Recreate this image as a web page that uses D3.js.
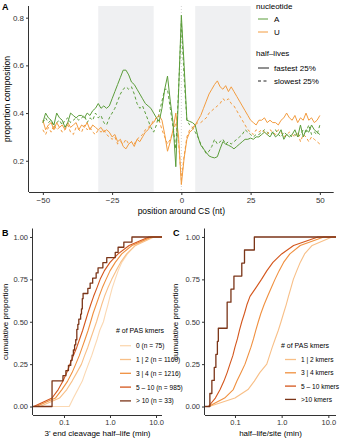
<!DOCTYPE html>
<html><head><meta charset="utf-8">
<script src="https://cdn.jsdelivr.net/npm/d3@7"></script>
<style>body{margin:0;background:#fff}svg{display:block}text{font-family:"Liberation Sans",Arial,sans-serif}</style>
</head><body><svg id="c" width="340" height="440"></svg>
<script>
// ---------- Panel A data ----------
const positions = d3.range(-50, 51);
const A_fastest = [0.36,0.40,0.38,0.37,0.35,0.40,0.38,0.37,0.34,0.36,
 0.40,0.39,0.38,0.39,0.39,0.38,0.40,0.39,0.41,0.42,
 0.44,0.42,0.43,0.42,0.43,0.46,0.49,0.52,0.55,0.58,
 0.58,0.56,0.53,0.52,0.50,0.48,0.46,0.44,0.43,0.42,
 0.40,0.38,0.365,0.42,0.50,0.555,0.45,0.36,0.175,0.49,
 0.81,
 0.60,0.37,0.365,0.36,0.35,0.30,0.266,0.25,0.235,0.22,
 0.215,0.212,0.217,0.25,0.28,0.27,0.265,0.259,0.25,0.26,
 0.27,0.28,0.29,0.29,0.295,0.29,0.30,0.30,0.31,0.32,
 0.31,0.30,0.32,0.30,0.31,0.33,0.29,0.31,0.30,0.31,
 0.33,0.30,0.35,0.30,0.33,0.32,0.35,0.33,0.32,0.31];
const A_slowest = [0.36,0.38,0.36,0.37,0.34,0.36,0.37,0.35,0.37,0.38,
 0.36,0.37,0.38,0.37,0.38,0.39,0.36,0.38,0.37,0.40,
 0.38,0.39,0.36,0.35,0.38,0.40,0.42,0.45,0.48,0.50,
 0.51,0.50,0.51,0.48,0.44,0.42,0.43,0.40,0.37,0.34,
 0.32,0.35,0.40,0.45,0.50,0.50,0.42,0.34,0.25,0.50,
 0.78,
 0.55,0.37,0.35,0.34,0.32,0.30,0.27,0.25,0.23,0.24,
 0.26,0.29,0.27,0.28,0.29,0.27,0.28,0.27,0.28,0.29,
 0.30,0.31,0.33,0.32,0.31,0.30,0.31,0.31,0.32,0.33,
 0.32,0.31,0.32,0.33,0.31,0.30,0.32,0.31,0.31,0.30,
 0.31,0.30,0.31,0.33,0.32,0.35,0.31,0.32,0.31,0.35];
const U_fastest = [0.37,0.33,0.35,0.36,0.33,0.36,0.34,0.35,0.33,0.36,
 0.34,0.35,0.36,0.33,0.35,0.34,0.36,0.33,0.35,0.34,
 0.33,0.34,0.32,0.33,0.32,0.30,0.31,0.28,0.29,0.26,
 0.25,0.27,0.28,0.26,0.29,0.28,0.30,0.32,0.33,0.35,
 0.36,0.38,0.39,0.37,0.31,0.24,0.28,0.33,0.40,0.30,
 0.10,
 0.21,0.29,0.32,0.33,0.35,0.37,0.39,0.42,0.45,0.48,
 0.50,0.52,0.535,0.51,0.50,0.515,0.49,0.51,0.49,0.47,
 0.45,0.43,0.41,0.39,0.37,0.36,0.35,0.37,0.37,0.38,
 0.36,0.37,0.36,0.36,0.35,0.37,0.38,0.40,0.38,0.37,
 0.39,0.36,0.38,0.37,0.40,0.37,0.38,0.36,0.37,0.39];
const U_slowest = [0.33,0.31,0.34,0.32,0.35,0.33,0.34,0.32,0.33,0.35,
 0.32,0.31,0.34,0.33,0.32,0.35,0.33,0.34,0.32,0.31,
 0.33,0.32,0.33,0.31,0.30,0.29,0.30,0.27,0.28,0.27,
 0.29,0.27,0.28,0.27,0.29,0.30,0.31,0.33,0.34,0.35,
 0.37,0.38,0.37,0.33,0.30,0.27,0.29,0.32,0.36,0.28,
 0.12,
 0.22,0.30,0.33,0.34,0.35,0.36,0.36,0.37,0.38,0.40,
 0.41,0.42,0.43,0.44,0.46,0.45,0.46,0.44,0.43,0.41,
 0.39,0.37,0.35,0.33,0.32,0.31,0.33,0.32,0.33,0.32,
 0.31,0.33,0.32,0.31,0.33,0.32,0.30,0.31,0.32,0.31,
 0.30,0.32,0.28,0.31,0.30,0.28,0.30,0.29,0.28,0.27];
const shadedRegions = [[-30,-10],[5,25]];
const xTicksA = [-50,-25,0,25,50];
const yTicksA = [0.2,0.4,0.6,0.8];

// ---------- Panel B data (quantiles at p = 0,0.05,...,1) ----------
const quantileLevels = [0,0.05,0.1,0.15,0.2,0.25,0.3,0.35,0.4,0.45,0.5,0.55,0.6,0.65,0.7,0.75,0.8,0.85,0.9,0.95,1];
const B_labels = ["0 (n = 75)","1 | 2 (n = 1160)","3 | 4 (n = 1216)","5 \u2013 10 (n = 985)","> 10 (n = 33)"];
const B_k0   = [0.13,0.16,0.2,0.25,0.29,0.34,0.4,0.46,0.53,0.6,0.72,0.8,0.9,1.0,1.12,1.29,1.5,1.8,2.4,3.5,7.5];
const B_k12  = [0.03,0.08,0.115,0.15,0.19,0.24,0.28,0.33,0.38,0.44,0.51,0.58,0.66,0.76,0.9,1.09,1.35,1.7,2.3,3.6,9.0];
const B_k34  = [0.025,0.065,0.09,0.12,0.15,0.18,0.215,0.25,0.29,0.335,0.38,0.43,0.5,0.58,0.68,0.82,1.0,1.3,1.8,3.0,8.0];
const B_k510 = [0.022,0.055,0.075,0.095,0.115,0.135,0.16,0.19,0.22,0.255,0.29,0.33,0.38,0.44,0.52,0.61,0.75,1.0,1.5,2.6,7.0];
const B_k10  = [0.055,0.055,0.055,0.055,0.055,0.095,0.11,0.125,0.14,0.15,0.16,0.17,0.18,0.19,0.19,0.2,0.21,0.23,0.25,0.25,0.24,0.26,0.33,0.37,0.42,0.5,0.55,0.7,0.85,1.3,1.5,2.0,3.0];

// ---------- Panel C data ----------
const C_labels = ["1 | 2 kmers","3 | 4 kmers","5 \u2013 10 kmers",">10 kmers"];
const C_k12  = [0.028,0.1,0.19,0.26,0.34,0.48,0.55,0.63,0.73,0.85,0.97,1.1,1.25,1.4,1.58,1.78,2.1,2.5,3.1,4.5,12.0];
const C_k34  = [0.027,0.06,0.092,0.11,0.135,0.164,0.19,0.22,0.25,0.28,0.316,0.36,0.42,0.5,0.6,0.72,0.88,1.1,1.5,2.5,8.0];
const C_k510 = [0.027,0.038,0.048,0.058,0.068,0.078,0.09,0.10,0.113,0.125,0.14,0.16,0.18,0.21,0.28,0.37,0.48,0.65,1.0,1.8,6.0];
const C_k10  = [0.029,0.032,0.036,0.039,0.042,0.044,0.068,0.068,0.082,0.095,0.14,0.16,0.26];

const logTicks = [0.1,1,10];
const logTickLabels = ["0.1","1.0","10.0"];
const cdfTicks = [0,0.25,0.5,0.75,1];

const colA = "#5b9d3a", colU = "#f39c40";
const pal = ["#fbd8b2","#f8bf87","#f0903f","#d4561c","#7b3518"];

const svg = d3.select("#c");
const font = '"Liberation Sans",Arial,sans-serif';

function axisStyle(g){
  g.selectAll(".domain").attr("stroke","#333").attr("stroke-width",1);
  g.selectAll(".tick line").attr("stroke","#333");
  g.selectAll(".tick text").attr("fill","#333").style("font-family",font);
}

// ================= Panel A =================
{
  const L=29,R=333.7,T=6,B=192;
  const x=d3.scaleLinear().domain([-55,55]).range([L,R]);
  const y=d3.scaleLinear().domain([0.069,0.849]).range([B,T]);
  const g=svg.append("g");
  g.selectAll("rect.sh").data(shadedRegions).join("rect")
    .attr("x",d=>x(d[0])).attr("width",d=>x(d[1])-x(d[0]))
    .attr("y",T).attr("height",B-T).attr("fill","#eff0f2");
  g.append("line").attr("x1",x(0)).attr("x2",x(0)).attr("y1",T).attr("y2",B)
    .attr("stroke","#c8c8c8").attr("stroke-width",0.8).attr("stroke-dasharray","1,2");
  const line=d3.line().x((d,i)=>x(positions[i])).y(d=>y(d));
  const series=[[A_slowest,colA,"3,2.5"],[U_slowest,colU,"3,2.5"],[U_fastest,colU,null],[A_fastest,colA,null]];
  series.forEach(([s,c,da])=>{
    g.append("path").attr("d",line(s)).attr("fill","none").attr("stroke",c)
      .attr("stroke-width",1).attr("stroke-dasharray",da).attr("stroke-linejoin","round");
  });
  const ax=g.append("g").attr("transform",`translate(0,${B})`)
    .call(d3.axisBottom(x).tickValues(xTicksA).tickSize(3).tickPadding(2).tickFormat(d=>d<0?"\u2212"+Math.abs(d):d));
  ax.selectAll("text").attr("font-size",8);
  axisStyle(ax);
  ax.select(".domain").attr("d",`M${L},0.5H${R}`);
  const ay=g.append("g").attr("transform",`translate(${L},0)`)
    .call(d3.axisLeft(y).tickValues(yTicksA).tickSize(3).tickPadding(2).tickFormat(d3.format(".1f")));
  ay.selectAll("text").attr("font-size",8);
  axisStyle(ay);
  ay.select(".domain").attr("d",`M-0.5,${T}V${B}`);
  g.append("text").attr("x",(L+R)/2).attr("y",214).attr("text-anchor","middle").attr("font-size",8.5).text("position around CS (nt)");
  g.append("text").attr("transform",`translate(10,${(T+B)/2}) rotate(-90)`).attr("text-anchor","middle").attr("font-size",8.5).text("proportion composition");
  g.append("text").attr("x",2).attr("y",10).attr("font-size",9).attr("font-weight","bold").text("A");
  // legend
  const lg=g.append("g");
  lg.append("text").attr("x",256).attr("y",8.5).attr("font-size",8).text("nucleotide");
  [["A",colA,19],["U",colU,32]].forEach(([t,c,yy])=>{
    lg.append("line").attr("x1",258).attr("x2",268).attr("y1",yy).attr("y2",yy).attr("stroke",c).attr("stroke-width",1);
    lg.append("text").attr("x",274).attr("y",yy+3).attr("font-size",8).text(t);
  });
  lg.append("text").attr("x",256).attr("y",55.5).attr("font-size",8).text("half\u2013lives");
  [["fastest 25%",null,68],["slowest 25%","3,2.5",81]].forEach(([t,da,yy])=>{
    lg.append("line").attr("x1",258).attr("x2",269).attr("y1",yy).attr("y2",yy).attr("stroke","#222").attr("stroke-width",1).attr("stroke-dasharray",da);
    lg.append("text").attr("x",274).attr("y",yy+3).attr("font-size",8).text(t);
  });
}

// ================= CDF panels =================
function cdfPanel(opt){
  const {L,R,T,B,xdom,curves,steps,labels,cols,letter,letterX,xtitle,ytitleX,leg}=opt;
  const x=d3.scaleLog().domain(xdom).range([L,R]);
  const y=d3.scaleLinear().domain([-0.05,1.05]).range([B,T]);
  const g=svg.append("g");
  const lin=d3.line().x(d=>x(d[0])).y(d=>y(d[1]));
  const stp=d3.line().x(d=>x(d[0])).y(d=>y(d[1])).curve(d3.curveStepAfter);
  curves.forEach((q,k)=>{
    let pts, gen;
    if(steps[k]){
      const s=q.slice().sort(d3.ascending);
      pts=[[xdom[0],0]].concat(s.map((v,i)=>[v,(i+1)/s.length])).concat([[xdom[1],1]]);
      gen=stp;
    } else {
      pts=[[xdom[0],0]].concat(q.map((v,i)=>[v,quantileLevels[i]])).concat([[xdom[1],1]]);
      gen=lin;
    }
    g.append("path").attr("d",gen(pts)).attr("fill","none").attr("stroke",cols[k])
      .attr("stroke-width",k===curves.length-1?1.3:1.1).attr("stroke-linejoin","round");
  });
  const ax=g.append("g").attr("transform",`translate(0,${B})`)
    .call(d3.axisBottom(x).tickValues(logTicks).tickSize(3).tickPadding(2).tickFormat((d,i)=>logTickLabels[i]));
  ax.selectAll("text").attr("font-size",7.5);
  axisStyle(ax);
  ax.select(".domain").attr("d",`M${L},0.5H${R}`);
  const ay=g.append("g").attr("transform",`translate(${L},0)`)
    .call(d3.axisLeft(y).tickValues(cdfTicks).tickSize(3).tickPadding(2).tickFormat(d3.format(".2f")));
  ay.selectAll("text").attr("font-size",7.5);
  axisStyle(ay);
  ay.select(".domain").attr("d",`M-0.5,${T}V${B}`);
  g.append("text").attr("x",(L+R)/2).attr("y",436).attr("text-anchor","middle").attr("font-size",8).text(xtitle);
  g.append("text").attr("transform",`translate(${ytitleX},${(T+B)/2}) rotate(-90)`).attr("text-anchor","middle").attr("font-size",8).text("cumulative proportion");
  g.append("text").attr("x",letterX).attr("y",236).attr("font-size",9).attr("font-weight","bold").text(letter);
  const lg=g.append("g");
  lg.append("text").attr("x",leg.x).attr("y",leg.ty).attr("font-size",7).text("# of PAS kmers");
  labels.forEach((t,i)=>{
    const yy=leg.y0+i*leg.dy;
    lg.append("line").attr("x1",leg.x+4).attr("x2",leg.x+15).attr("y1",yy).attr("y2",yy).attr("stroke",cols[i]).attr("stroke-width",1.3);
    lg.append("text").attr("x",leg.x+20).attr("y",yy+2.5).attr("font-size",6.6).text(t);
  });
}

cdfPanel({L:33,R:162,T:228.5,B:415,xdom:[0.0212,13.5],
  curves:[B_k0,B_k12,B_k34,B_k510,B_k10],steps:[false,false,false,false,true],
  labels:B_labels,cols:pal,letter:"B",letterX:2,xtitle:"3' end cleavage half\u2013life (min)",ytitleX:8,
  leg:{x:116,ty:333,y0:345.7,dy:13.8}});
cdfPanel({L:205,R:336,T:228.5,B:415,xdom:[0.0228,14.6],
  curves:[C_k12,C_k34,C_k510,C_k10],steps:[false,false,false,true],
  labels:C_labels,cols:pal.slice(1),letter:"C",letterX:173,xtitle:"half\u2013life/site (min)",ytitleX:178,
  leg:{x:281,ty:348,y0:359.5,dy:13.3}});
</script></body></html>
